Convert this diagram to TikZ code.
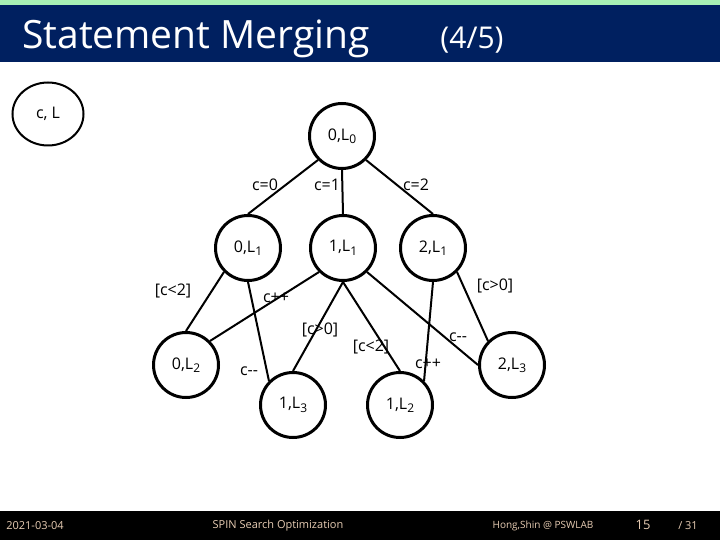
\documentclass[tikz,border=0pt]{standalone}
\usepackage{fontspec}
\setmainfont{Open Sans}
\usetikzlibrary{shapes.geometric}
\definecolor{navy}{RGB}{0,32,96}
\definecolor{topgreen}{RGB}{168,240,180}
\definecolor{foottext}{RGB}{232,205,180}
\newcommand\lsub[1]{\raisebox{-0.4ex}{\fontsize{12}{12}\selectfont #1}}
\begin{document}
\begin{tikzpicture}[x=1pt,y=-1pt,
  st/.style={circle, draw, line width=3pt, minimum size=65pt, inner sep=0pt, font=\fontsize{16}{16}\selectfont},
  lbl/.style={font=\fontsize{16}{16}\selectfont, inner sep=0pt},
  conn/.style={line width=2pt},
  foot/.style={text=foottext, font=\fontsize{11}{11}\selectfont, inner sep=0pt}]
\useasboundingbox (0,0) rectangle (720,540);
% header
\fill[topgreen] (0,0) rectangle (720,5);
\fill[navy] (0,5) rectangle (720,62);
\node[anchor=base west, text=white, font=\fontsize{39}{39}\selectfont, inner sep=0pt] (title) at (22,49) {Statement Merging};
\node[anchor=base, text=white, font=\fontsize{30}{30}\selectfont, inner sep=0pt] (page) at (472,49) {(4/5)};
% footer
\fill[black] (0,511) rectangle (720,540);
\node[foot] (date) at (35,526) {2021-03-04};
\node[foot] (ftitle) at (278,526) {SPIN Search Optimization};
\node[foot, font=\fontsize{10}{10}\selectfont] (author) at (543,526) {Hong,Shin @ PSWLAB};
\node[foot, font=\fontsize{13}{13}\selectfont] (pnum) at (643,525) {15};
\node[foot] (ptot) at (688,526) {/ 31};
% legend
\node[ellipse, draw, line width=2pt, minimum width=71pt, minimum height=63pt, inner sep=0pt, font=\fontsize{16}{16}\selectfont] (legend) at (48,114) {c, L};
% states
\node[st] (s0) at (342,136) {0,L\lsub{0}};
\node[st] (a) at (248,248) {0,L\lsub{1}};
\node[st] (b) at (343,248) {1,L\lsub{1}};
\node[st] (c) at (433,248) {2,L\lsub{1}};
\node[st] (d) at (186,365) {0,L\lsub{2}};
\node[st] (e) at (293,405) {1,L\lsub{3}};
\node[st] (f) at (400,405) {1,L\lsub{2}};
\node[st] (g) at (512,365) {2,L\lsub{3}};
% connectors
\draw[conn] (s0.south west) -- (a.north);
\draw[conn] (s0.south) -- (b.north);
\draw[conn] (s0.south east) -- (c.north);
\draw[conn] (a.south west) -- (d.north);
\draw[conn] (a.south) -- (e.north west);
\draw[conn] (b.south west) -- (d.north east);
\draw[conn] (b.south) -- (e.north);
\draw[conn] (b.south) -- (f.north);
\draw[conn] (b.south east) -- (g.west);
\draw[conn] (c.south) -- (f.north east);
\draw[conn] (c.south east) -- (g.north west);
% labels
\node[lbl] (l1) at (265,185) {c=0};
\node[lbl] (l2) at (327,185) {c=1};
\node[lbl] (l3) at (416,185) {c=2};
\node[lbl] (l4) at (173,291) {[c<2]};
\node[lbl] (l5) at (276,298) {c++};
\node[lbl] (l6) at (320,330) {[c>0]};
\node[lbl] (l7) at (371,347) {[c<2]};
\node[lbl] (l8) at (249,371) {c-{}-};
\node[lbl] (l9) at (428,364) {c++};
\node[lbl] (l10) at (458,337) {c-{}-};
\node[lbl] (l11) at (495,286) {[c>0]};
\end{tikzpicture}
\end{document}
